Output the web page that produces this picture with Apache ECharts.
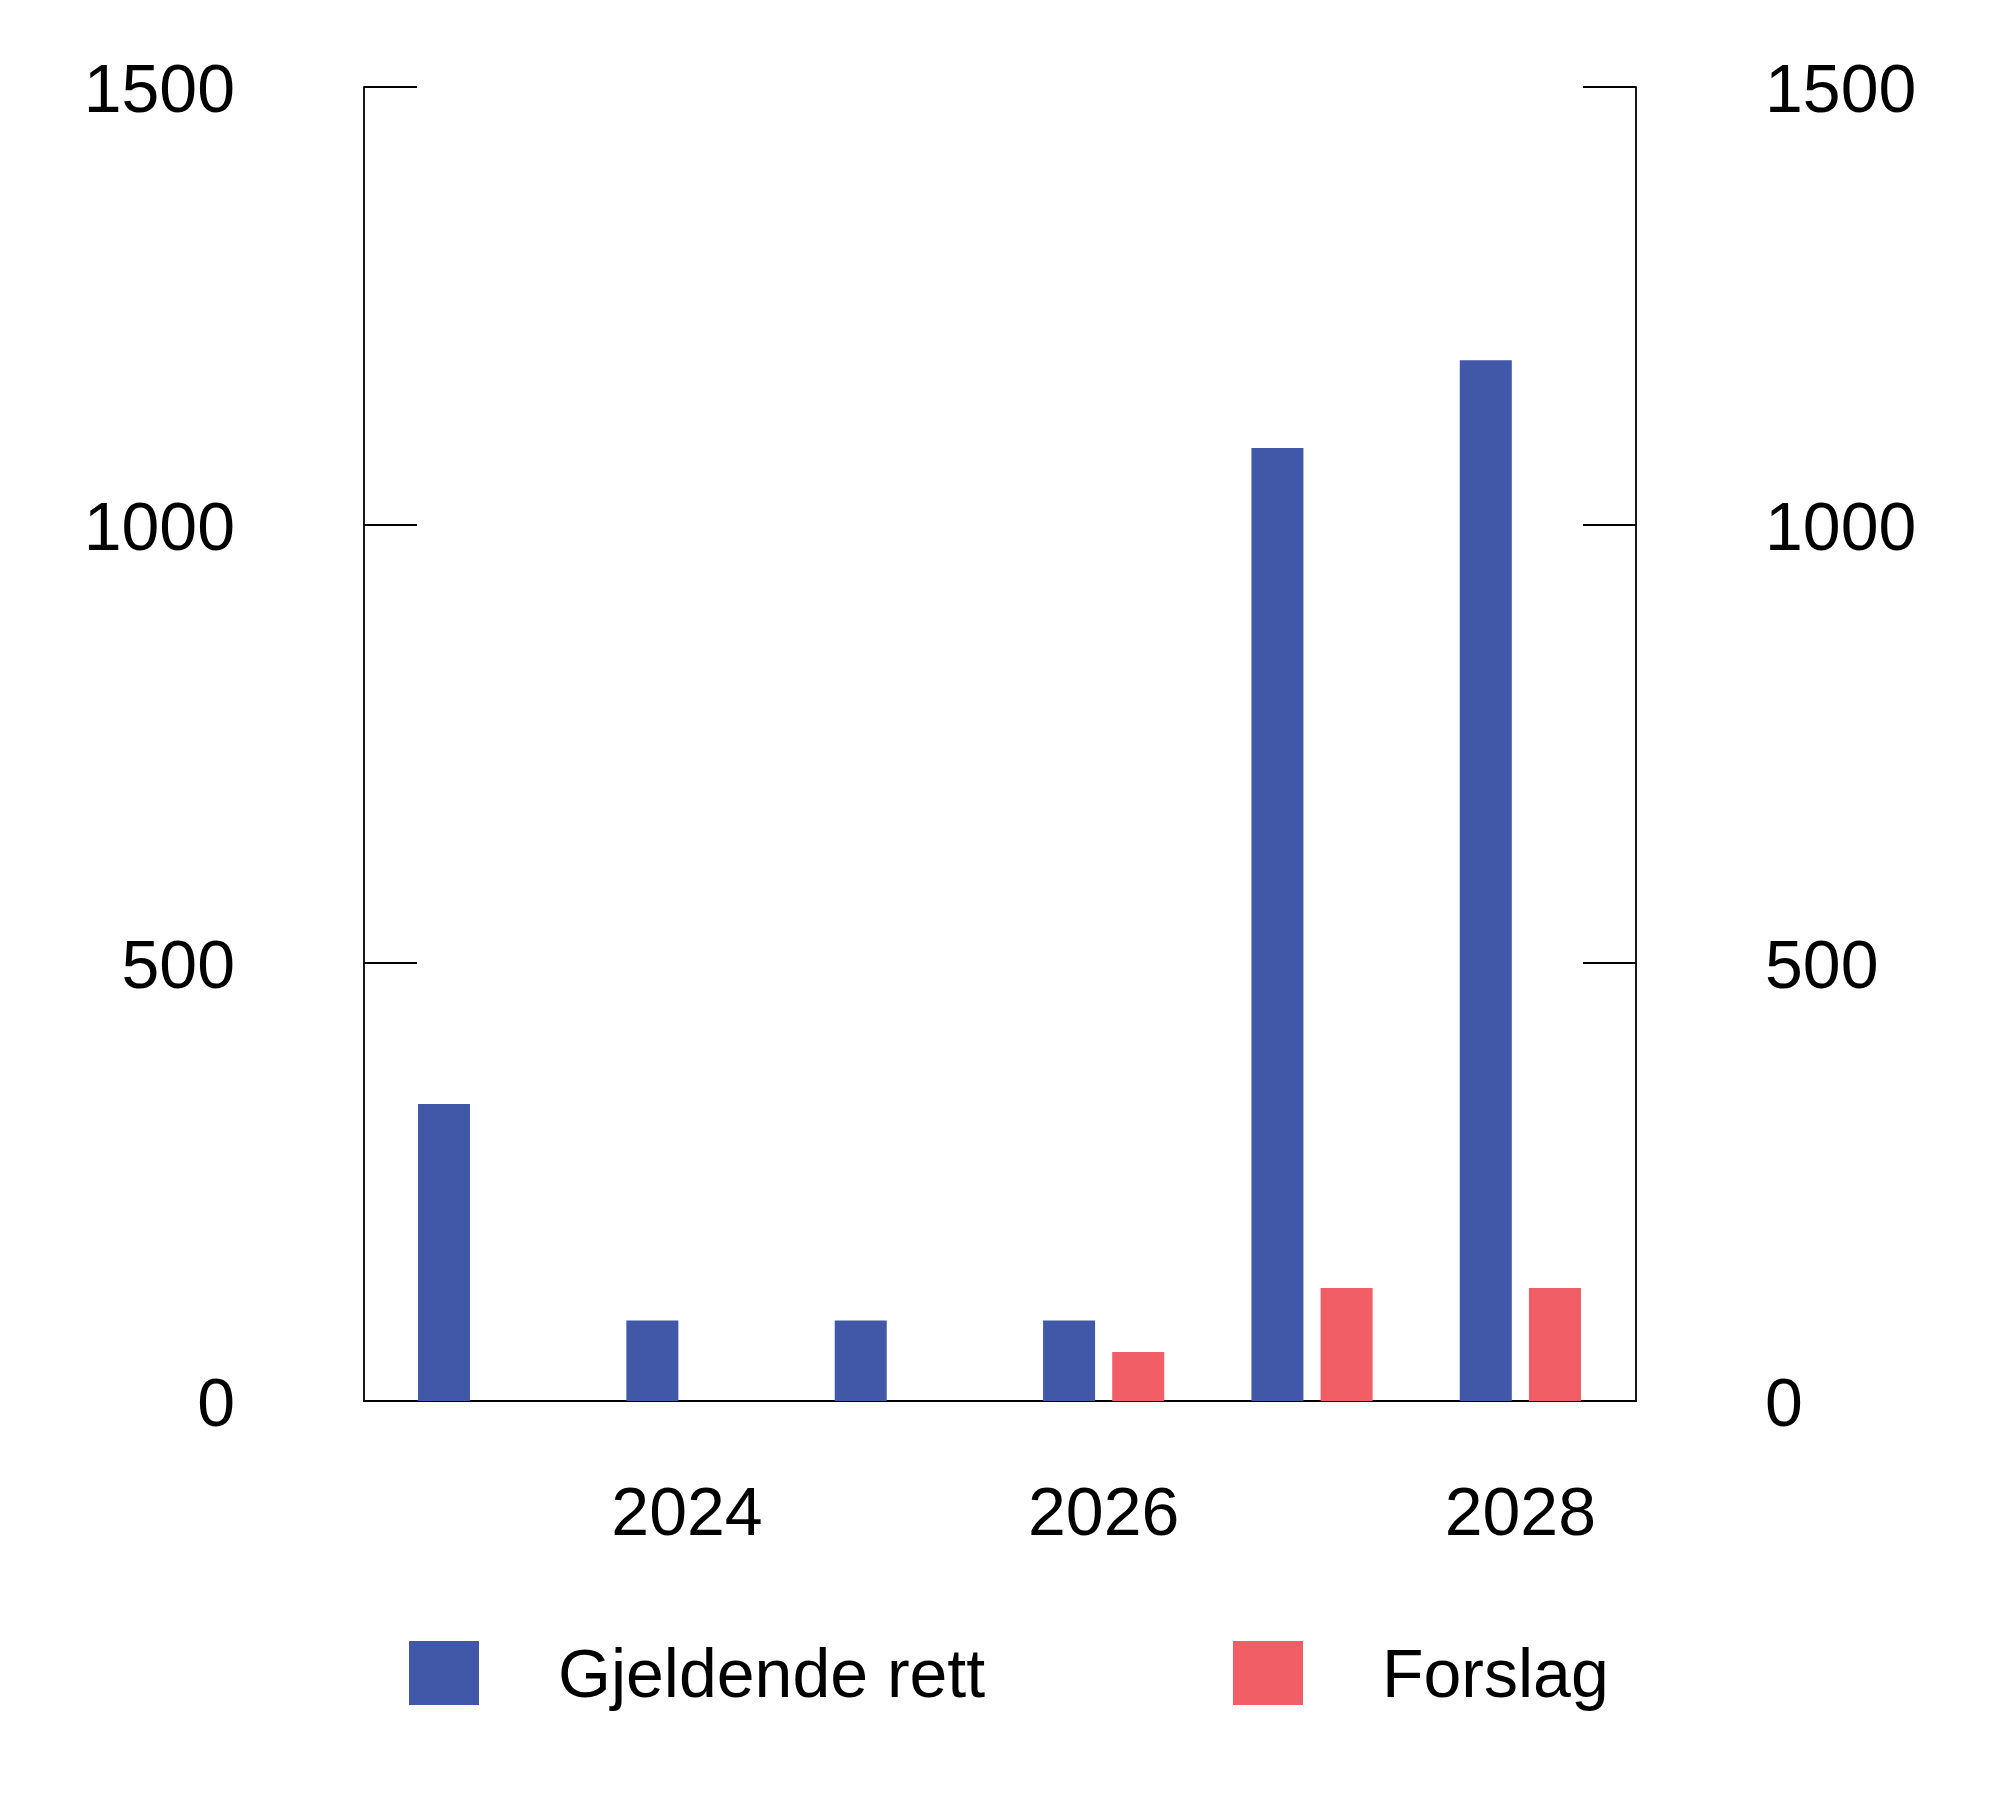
<!DOCTYPE html>
<html>
<head>
<meta charset="utf-8">
<script src="https://cdn.jsdelivr.net/npm/echarts@6/dist/echarts.min.js"></script>
<style>
  html, body { margin: 0; padding: 0; background: #fff; }
  #chart { width: 2000px; height: 1816px; }
</style>
</head>
<body>
<div id="chart"></div>
<script>
const years = [2023, 2024, 2025, 2026, 2027, 2028];
const gjeldendeRett = [339, 92, 92, 92, 1088, 1188];
const forslag = [null, null, null, 56, 129, 129];
const xTickLabels = [2024, 2026, 2028];
const yTicks = [0, 500, 1000, 1500];

const FONT = 'Liberation Sans, Arial, Helvetica, sans-serif';
const BLUE = '#4157a7';
const RED = '#f15e65';
const FS = 68;

const blueData = years.map((y, i) => [y, gjeldendeRett[i]]);
const redData = years.map((y, i) => [y, forslag[i]]).filter(d => d[1] !== null);

const chart = echarts.init(document.getElementById('chart'), null, { renderer: 'canvas' });

const yAxisBase = {
  type: 'value',
  min: yTicks[0],
  max: yTicks[yTicks.length - 1],
  interval: 500,
  splitLine: { show: false },
  axisLine: { show: true, lineStyle: { color: '#000', width: 1.8 } },
  axisTick: { show: true, inside: true, length: 53, lineStyle: { color: '#000', width: 2 } },
  axisLabel: {
    color: '#000', fontSize: FS, fontFamily: FONT, margin: 129,
    formatter: v => '{t|' + String(v) + '}',
    rich: { t: { color: '#000', fontSize: FS, fontFamily: FONT, padding: [12, 0, 0, 0] } }
  }
};

const legendText = {
  color: '#000', fontSize: FS, fontFamily: FONT,
  rich: { l: { color: '#000', fontSize: FS, fontFamily: FONT, padding: [10, 0, 0, 74] } }
};

chart.setOption({
  animation: false,
  backgroundColor: '#fff',
  grid: { left: 364, right: 364, top: 87, bottom: 415, containLabel: false },
  xAxis: {
    type: 'value',
    min: 2022.45,
    max: 2028.555,
    splitLine: { show: false },
    axisLine: { show: true, onZero: false, lineStyle: { color: '#000', width: 2 } },
    axisTick: { show: false },
    axisLabel: {
      customValues: xTickLabels,
      color: '#000', fontSize: FS, fontFamily: FONT, margin: 81,
      formatter: v => String(v)
    }
  },
  yAxis: [
    Object.assign({}, yAxisBase, { position: 'left' }),
    Object.assign({}, yAxisBase, { position: 'right' })
  ],
  legend: [
    {
      left: 404, top: 1636, orient: 'horizontal',
      itemWidth: 70, itemHeight: 64,
      icon: 'rect',
      data: ['Gjeldende rett'],
      formatter: n => '{l|' + n + '}',
      textStyle: legendText
    },
    {
      left: 1228, top: 1636, orient: 'horizontal',
      itemWidth: 70, itemHeight: 64,
      icon: 'rect',
      data: ['Forslag'],
      formatter: n => '{l|' + n + '}',
      textStyle: legendText
    }
  ],
  series: [
    {
      name: 'Gjeldende rett', type: 'bar', yAxisIndex: 0,
      data: blueData, barWidth: 52, barGap: '33%',
      itemStyle: { color: BLUE }
    },
    {
      name: 'Forslag', type: 'bar', yAxisIndex: 0,
      data: redData, barWidth: 52, barGap: '33%',
      itemStyle: { color: RED }
    }
  ]
});
</script>
</body>
</html>
